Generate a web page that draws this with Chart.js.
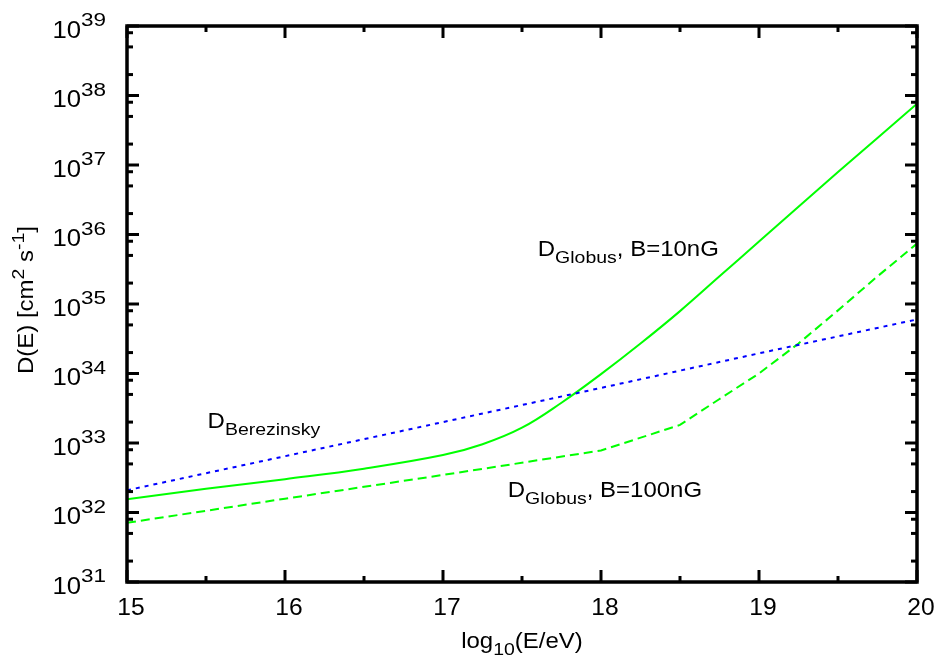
<!DOCTYPE html>
<html>
<head>
<meta charset="utf-8">
<script src="https://cdn.jsdelivr.net/npm/chart.js@4"></script>
<style>
  html, body { margin: 0; padding: 0; background: #ffffff; }
  #wrap { width: 937px; height: 657px; }
</style>
</head>
<body>
<div id="wrap"><canvas id="c" width="937" height="657"></canvas></div>
<script>
// ---------------- data ----------------
const energyBerezinsky = [15, 16, 17, 18, 19, 20];
const dBerezinsky = [2.09e32, 6.46e32, 2.0e33, 6.2e33, 1.95e34, 6.0e34];

const energyGlobus10nG = [15, 15.5, 16, 16.5, 17, 17.25, 17.5, 17.75, 18, 18.25, 18.5, 18.75, 19, 19.5, 20];
const dGlobus10nG = [1.55e32, 2.19e32, 3.02e32, 4.27e32, 6.7e32, 9.6e32, 1.66e33, 3.8e33, 9.8e33, 2.7e34, 7.9e34, 2.5e35, 7.9e35, 7.9e36, 7.6e37];

const energyGlobus100nG = [15, 16, 17, 18, 18.5, 18.75, 19, 19.25, 19.5, 19.75, 20];
const dGlobus100nG = [7.1e31, 1.58e32, 3.47e32, 7.8e32, 1.82e33, 4.3e33, 1.0e34, 2.7e34, 8.1e34, 2.5e35, 7.4e35];

const xMajorTicks = [15, 16, 17, 18, 19, 20];
const xMinorTicks = [15.5, 16.5, 17.5, 18.5, 19.5];
const yTickExponents = [31, 32, 33, 34, 35, 36, 37, 38, 39];
const yMinorMantissas = [2, 5, 8];

const xTitle = ['log', '10', '(E/eV)'];
const yTitle = ['D(E) [cm', '2', ' s', '-1', ']'];

const labelBerezinsky = { base: 'D', sub: 'Berezinsky', rest: '', x: 15.51, y: 1.65e33 };
const labelGlobus10 = { base: 'D', sub: 'Globus', rest: ', B=10nG', x: 17.60, y: 4.9e35 };
const labelGlobus100 = { base: 'D', sub: 'Globus', rest: ', B=100nG', x: 17.41, y: 1.66e32 };

// ---------------- helpers ----------------
const FAMILY = '"Liberation Sans", Arial, Helvetica, sans-serif';
function toXY(xs, ys) { return xs.map((x, i) => ({ x: x, y: ys[i] })); }

function drawRich(ctx, parts, x, y, align) {
  let total = 0;
  parts.forEach(p => {
    ctx.font = p.size + 'px ' + FAMILY;
    p.w = ctx.measureText(p.t).width * (p.sx || 1);
    total += p.w;
  });
  let cx = align === 'center' ? x - total / 2 : (align === 'right' ? x - total : x);
  parts.forEach(p => {
    ctx.save();
    ctx.font = p.size + 'px ' + FAMILY;
    ctx.textAlign = 'left';
    ctx.textBaseline = 'alphabetic';
    ctx.fillStyle = '#000';
    ctx.translate(cx, y + (p.dy || 0));
    ctx.scale(p.sx || 1, 1);
    ctx.fillText(p.t, 0, 0);
    ctx.restore();
    cx += p.w;
  });
}

const BASE = 22, BSX = 1.09, SUB = 16.5, SSX = 1.18;
const TICK = 23, TSX = 1.07, SUP = 18, USX = 1.25;

const decorPlugin = {
  id: 'decor',
  afterDatasetsDraw(chart) {
    const ctx = chart.ctx;
    const a = chart.chartArea;
    const xs = chart.scales.x, ys = chart.scales.y;
    ctx.save();
    ctx.strokeStyle = '#000';
    ctx.lineWidth = 3;
    ctx.lineCap = 'butt';
    const vt = (px, len) => {
      ctx.beginPath(); ctx.moveTo(px, a.bottom); ctx.lineTo(px, a.bottom - len); ctx.stroke();
      ctx.beginPath(); ctx.moveTo(px, a.top); ctx.lineTo(px, a.top + len); ctx.stroke();
    };
    const ht = (py, len) => {
      ctx.beginPath(); ctx.moveTo(a.left, py); ctx.lineTo(a.left + len, py); ctx.stroke();
      ctx.beginPath(); ctx.moveTo(a.right, py); ctx.lineTo(a.right - len, py); ctx.stroke();
    };
    xMajorTicks.forEach(v => vt(xs.getPixelForValue(v), 12));
    xMinorTicks.forEach(v => vt(xs.getPixelForValue(v), 6));
    yTickExponents.forEach(e => ht(ys.getPixelForValue(Math.pow(10, e)), 12));
    yTickExponents.slice(0, -1).forEach(e => {
      yMinorMantissas.forEach(m => ht(ys.getPixelForValue(m * Math.pow(10, e)), 6));
    });
    ctx.lineWidth = 3.5;
    ctx.strokeRect(a.left, a.top, a.right - a.left, a.bottom - a.top);
    ctx.restore();

    xMajorTicks.forEach(v => {
      drawRich(ctx, [{ t: String(v), size: TICK, sx: TSX }], xs.getPixelForValue(v) + 4, a.bottom + 33, 'center');
    });
    yTickExponents.forEach(e => {
      const py = ys.getPixelForValue(Math.pow(10, e));
      drawRich(ctx, [
        { t: '10', size: TICK + 1, sx: TSX, dy: 11.5 },
        { t: String(e), size: SUP, sx: USX, dy: 0 }
      ], a.left - 21, py, 'right');
    });
    drawRich(ctx, [
      { t: xTitle[0], size: BASE, sx: BSX },
      { t: xTitle[1], size: SUB, sx: SSX, dy: 7 },
      { t: xTitle[2], size: BASE, sx: BSX }
    ], (a.left + a.right) / 2, a.bottom + 66, 'center');
    ctx.save();
    ctx.translate(33, (a.top + a.bottom) / 2 - 4);
    ctx.rotate(-Math.PI / 2);
    drawRich(ctx, [
      { t: yTitle[0], size: BASE, sx: BSX },
      { t: yTitle[1], size: SUB, sx: SSX, dy: -9 },
      { t: yTitle[2], size: BASE, sx: BSX },
      { t: yTitle[3], size: SUB, sx: SSX, dy: -9 },
      { t: yTitle[4], size: BASE, sx: BSX }
    ], 0, 0, 'center');
    ctx.restore();
    [labelBerezinsky, labelGlobus10, labelGlobus100].forEach(l => {
      const parts = [
        { t: l.base, size: BASE, sx: BSX },
        { t: l.sub, size: SUB, sx: SSX, dy: 7 }
      ];
      if (l.rest) parts.push({ t: l.rest, size: BASE, sx: BSX });
      drawRich(ctx, parts, xs.getPixelForValue(l.x), ys.getPixelForValue(l.y), 'left');
    });
  }
};

new Chart(document.getElementById('c'), {
  type: 'line',
  data: {
    datasets: [
      {
        label: 'D_Berezinsky',
        data: toXY(energyBerezinsky, dBerezinsky),
        borderColor: '#0000ff',
        borderWidth: 2,
        borderDash: [4, 5],
        pointRadius: 0,
        tension: 0,
        fill: false
      },
      {
        label: 'D_Globus, B=10nG',
        data: toXY(energyGlobus10nG, dGlobus10nG),
        borderColor: '#00ff00',
        borderWidth: 2,
        pointRadius: 0,
        tension: 0.4,
        fill: false
      },
      {
        label: 'D_Globus, B=100nG',
        data: toXY(energyGlobus100nG, dGlobus100nG),
        borderColor: '#00ff00',
        borderWidth: 2,
        borderDash: [9, 5],
        pointRadius: 0,
        tension: 0,
        fill: false
      }
    ]
  },
  options: {
    responsive: false,
    animation: false,
    devicePixelRatio: 1,
    layout: { padding: { left: 127, right: 20, top: 26, bottom: 75 } },
    plugins: { legend: { display: false }, tooltip: { enabled: false } },
    scales: {
      x: {
        type: 'linear', min: 15, max: 20,
        grid: { display: false, drawTicks: false },
        border: { display: false },
        ticks: { display: false },
        afterFit: s => { s.height = 0; }
      },
      y: {
        type: 'logarithmic', min: 1e31, max: 1e39,
        grid: { display: false, drawTicks: false },
        border: { display: false },
        ticks: { display: false },
        afterFit: s => { s.width = 0; }
      }
    }
  },
  plugins: [decorPlugin]
});
</script>
</body>
</html>
